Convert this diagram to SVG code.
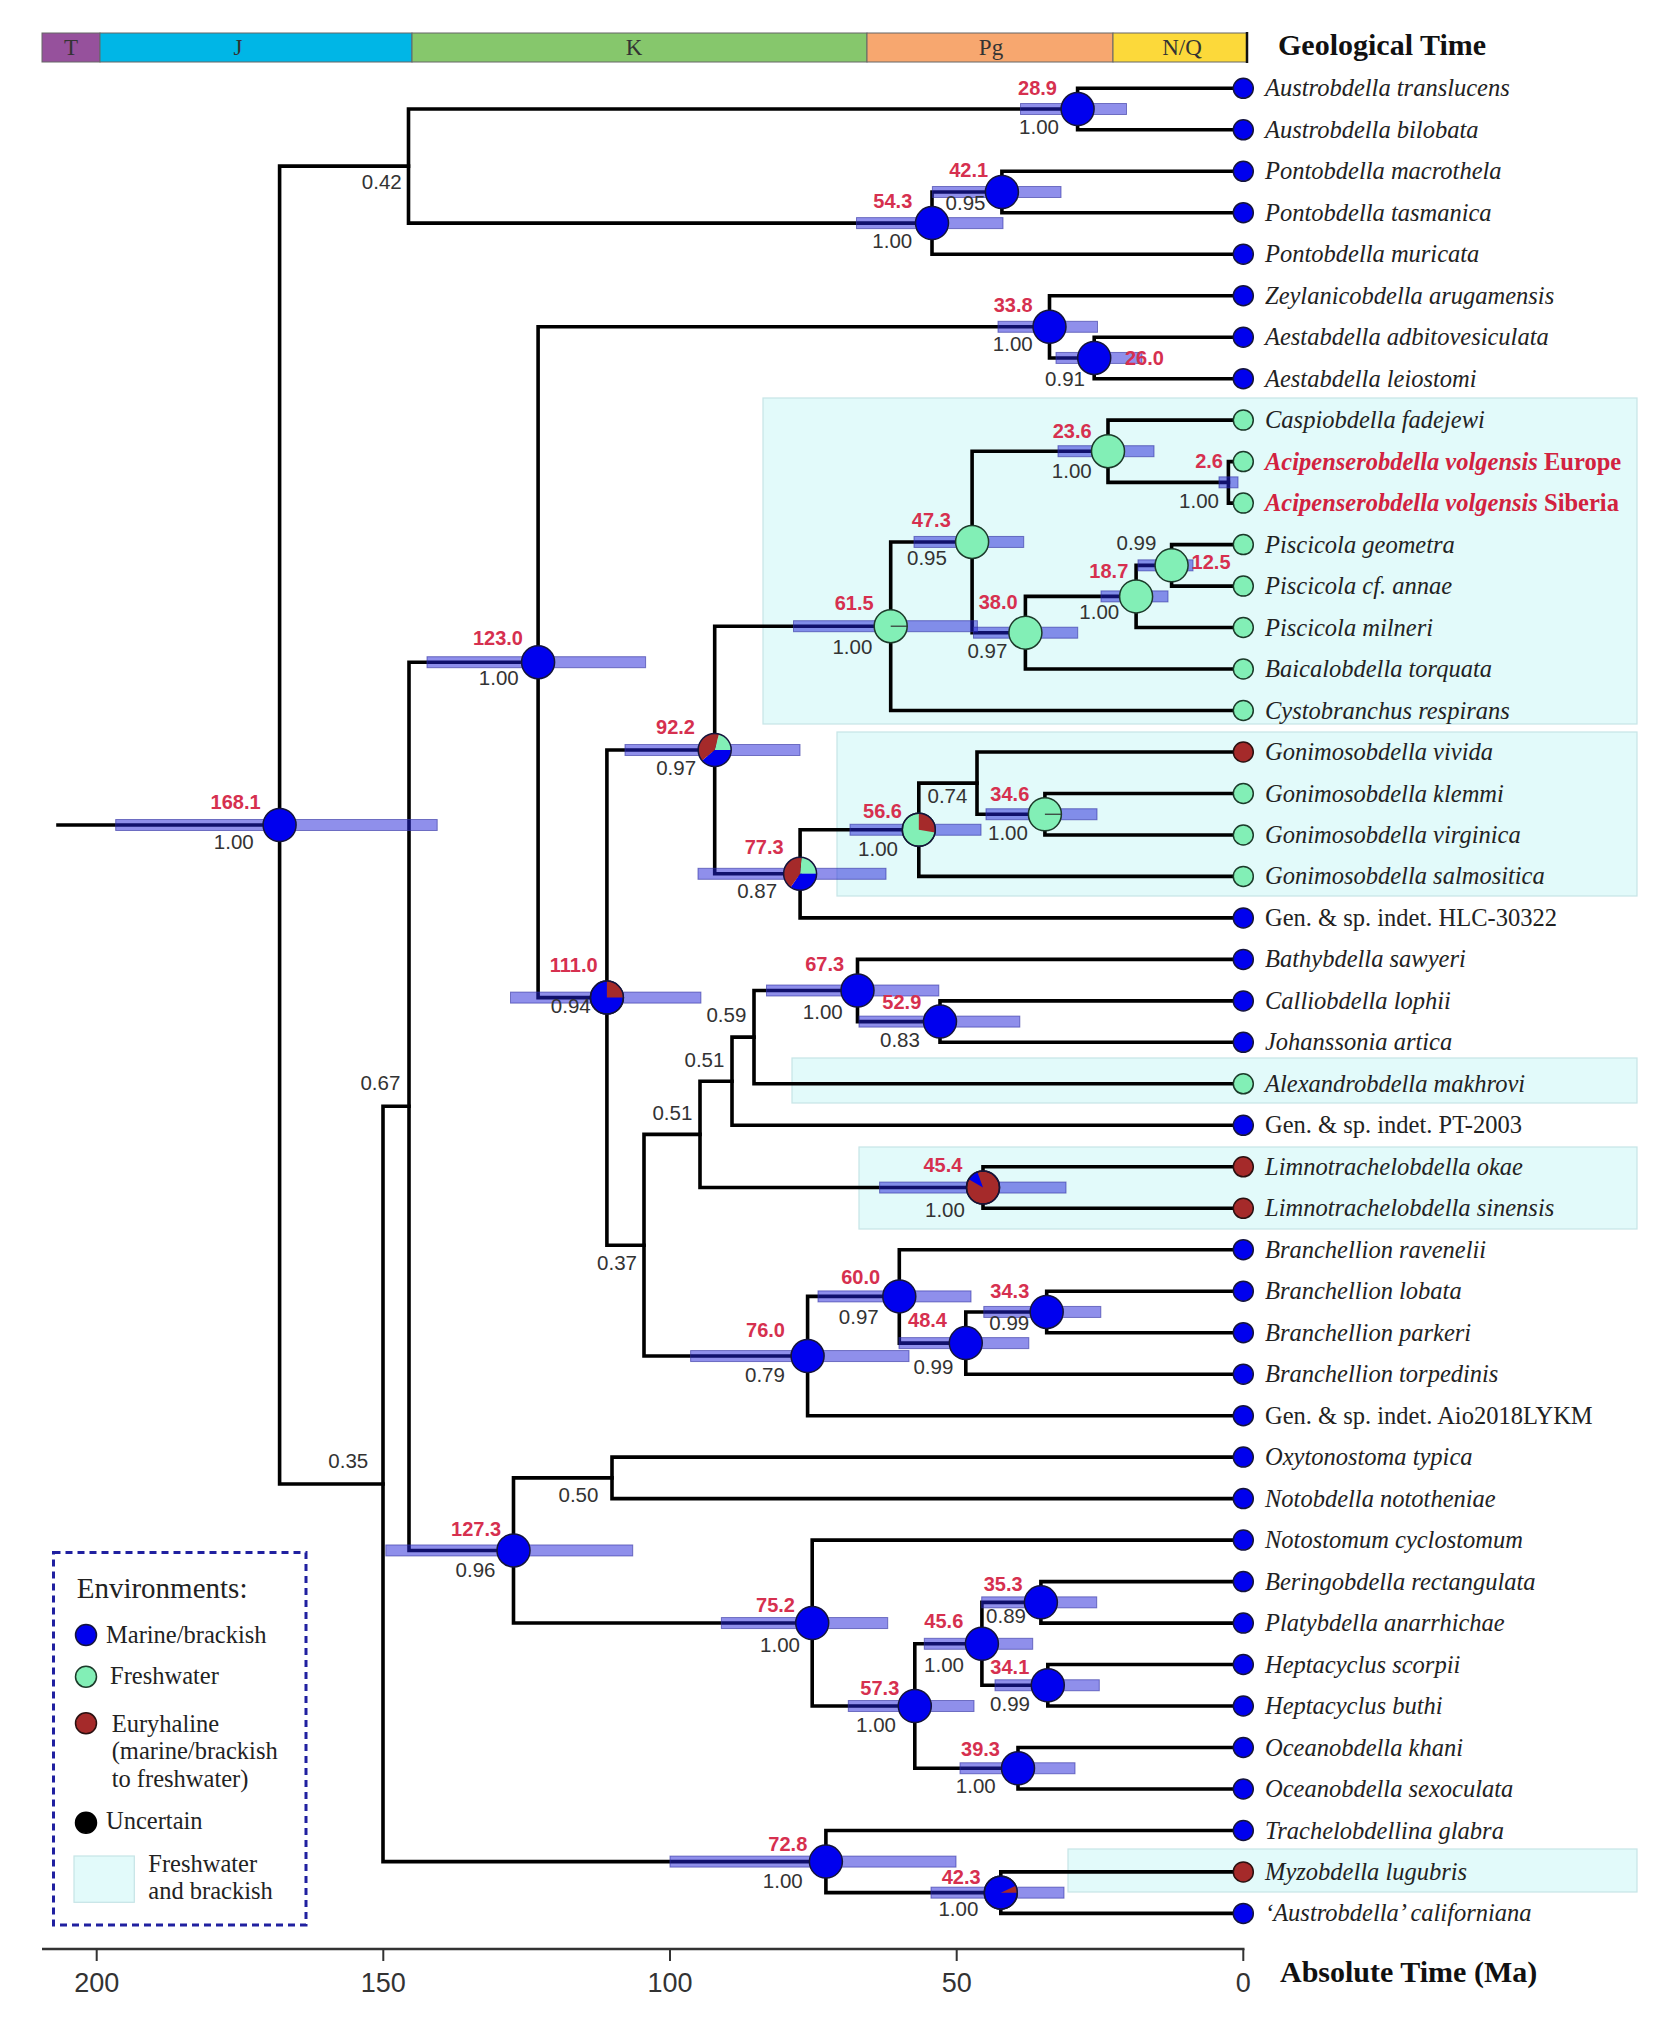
<svg xmlns="http://www.w3.org/2000/svg" width="1662" height="2018" viewBox="0 0 1662 2018">
<style>
.br{fill:none;stroke:#000;stroke-width:3.6;stroke-linecap:square;stroke-linejoin:miter}
.bar{fill:#2020d8;fill-opacity:0.5;stroke:#3030a0;stroke-width:1;stroke-opacity:0.6}
.box{fill:#e2fafa;stroke:#c6e4e6;stroke-width:1.2}
.mb{fill:#0000ee;stroke:#14143c;stroke-width:1.5}
.fw{fill:#82efb6;stroke:#1c3a2a;stroke-width:1.5}
.eu{fill:#a52a2a;stroke:#2a1010;stroke-width:1.5}
.un{fill:#000;stroke:#000;stroke-width:1.5}
.ring{fill:none;stroke:#14143c;stroke-width:1.5}
.pr{fill:#a52a2a}.pb{fill:#0000ee}.pg{fill:#82efb6}
.age{font-family:'Liberation Sans',Arial,sans-serif;font-weight:bold;font-size:20px;fill:#d6304f;text-anchor:end}
.sup{font-family:'Liberation Sans',Arial,sans-serif;font-size:20.5px;fill:#333;text-anchor:end}
.tip{font-family:'Liberation Serif',serif;font-style:italic;font-size:24.5px;fill:#222}
.up{font-style:normal}
.hl{fill:#d2223f;font-weight:bold}
.geo{font-family:'Liberation Serif',serif;font-size:23px;fill:#333;text-anchor:middle}
.ttl{font-family:'Liberation Serif',serif;font-weight:bold;font-size:30px;fill:#111}
.ax{font-family:'Liberation Sans',sans-serif;font-size:27px;fill:#333;text-anchor:middle}
.leg{font-family:'Liberation Serif',serif;font-size:24.5px;fill:#222}
</style>

<!-- geological time bar -->
<g id="geobar">
<rect x="42" y="33" width="58" height="29" fill="#96519c" stroke="#666" stroke-width="1"/>
<rect x="100" y="33" width="312" height="29" fill="#00b6e6" stroke="#666" stroke-width="1"/>
<rect x="412" y="33" width="455" height="29" fill="#86c76c" stroke="#666" stroke-width="1"/>
<rect x="867" y="33" width="246" height="29" fill="#f7a76f" stroke="#666" stroke-width="1"/>
<rect x="1113" y="33" width="134" height="29" fill="#fcd93a" stroke="#666" stroke-width="1"/>
<line x1="1247" y1="32" x2="1247" y2="63" stroke="#111" stroke-width="2.5"/>
<text class="geo" x="71" y="55">T</text>
<text class="geo" x="238" y="55">J</text>
<text class="geo" x="634" y="55">K</text>
<text class="geo" x="991" y="55">Pg</text>
<text class="geo" x="1182" y="55">N/Q</text>
<text class="ttl" x="1278" y="55">Geological Time</text>
</g>

<!-- freshwater / brackish highlight boxes -->
<g id="highlights">
<rect class="box" x="763" y="398" width="874" height="326"/>
<rect class="box" x="837" y="732" width="800" height="164"/>
<rect class="box" x="792" y="1058" width="845" height="45"/>
<rect class="box" x="859" y="1147" width="778" height="82"/>
<rect class="box" x="1068" y="1849" width="569" height="43"/>
</g>

<!-- connectors -->
<g id="connectors">
<path class="br" d="M58,825 H279.6"/>
<path class="br" d="M408.5,166.1 H279.6 V1483.95 H383"/>
<path class="br" d="M1077.6,109.05 H408.5 V223.1 H932"/>
<path class="br" d="M1243.3,88.3 H1077.6 V129.8 H1243.3"/>
<path class="br" d="M1001.9,192 H932 V254.2 H1243.3"/>
<path class="br" d="M1243.3,171.3 H1001.9 V212.7 H1243.3"/>
<path class="br" d="M409,1106.3 H383 V1861.6 H825.9"/>
<path class="br" d="M538.1,662.2 H409 V1550.45 H513.5"/>
<path class="br" d="M1049.5,326.8 H538.1 V997.6 H606.9"/>
<path class="br" d="M1243.3,295.7 H1049.5 V357.95 H1094.2"/>
<path class="br" d="M1243.3,337.2 H1094.2 V378.7 H1243.3"/>
<path class="br" d="M714.7,750 H606.9 V1245.2 H644"/>
<path class="br" d="M890.7,626.2 H714.7 V873.8 H800.1"/>
<path class="br" d="M972.1,541.95 H890.7 V710.5 H1243.3"/>
<path class="br" d="M1108,451.2 H972.1 V632.7 H1025.4"/>
<path class="br" d="M1243.3,420.1 H1108 V482.35 H1228.4"/>
<path class="br" d="M1243.3,461.6 H1228.4 V503.1 H1243.3"/>
<path class="br" d="M1136.1,596.4 H1025.4 V669 H1243.3"/>
<path class="br" d="M1171.6,565.35 H1136.1 V627.5 H1243.3"/>
<path class="br" d="M1243.3,544.6 H1171.6 V586.1 H1243.3"/>
<path class="br" d="M918.8,829.75 H800.1 V917.9 H1243.3"/>
<path class="br" d="M977,783.1 H918.8 V876.4 H1243.3"/>
<path class="br" d="M1243.3,752 H977 V814.25 H1044.9"/>
<path class="br" d="M1243.3,793.5 H1044.9 V835 H1243.3"/>
<path class="br" d="M700,1134.4 H644 V1356.05 H807.6"/>
<path class="br" d="M732,1081.2 H700 V1187.55 H983"/>
<path class="br" d="M754,1037.15 H732 V1125.3 H1243.3"/>
<path class="br" d="M857.5,990.5 H754 V1083.8 H1243.3"/>
<path class="br" d="M1243.3,959.4 H857.5 V1021.6 H940"/>
<path class="br" d="M1243.3,1000.9 H940 V1042.3 H1243.3"/>
<path class="br" d="M1243.3,1166.8 H983 V1208.3 H1243.3"/>
<path class="br" d="M899.3,1296.4 H807.6 V1415.7 H1243.3"/>
<path class="br" d="M1243.3,1249.7 H899.3 V1343.1 H965.8"/>
<path class="br" d="M1046.7,1311.95 H965.8 V1374.2 H1243.3"/>
<path class="br" d="M1243.3,1291.2 H1046.7 V1332.7 H1243.3"/>
<path class="br" d="M612,1477.85 H513.5 V1623.05 H812.2"/>
<path class="br" d="M1243.3,1457.1 H612 V1498.6 H1243.3"/>
<path class="br" d="M1243.3,1540.1 H812.2 V1706 H914.8"/>
<path class="br" d="M981.9,1643.8 H914.8 V1768.25 H1018"/>
<path class="br" d="M1040.9,1602.35 H981.9 V1685.25 H1047.8"/>
<path class="br" d="M1243.3,1581.6 H1040.9 V1623.1 H1243.3"/>
<path class="br" d="M1243.3,1664.5 H1047.8 V1706 H1243.3"/>
<path class="br" d="M1243.3,1747.5 H1018 V1789 H1243.3"/>
<path class="br" d="M1243.3,1830.5 H825.9 V1892.65 H1000.8"/>
<path class="br" d="M1243.3,1871.9 H1000.8 V1913.4 H1243.3"/>
</g>

<!-- age HPD bars -->
<g id="hpd-bars">
<rect class="bar" x="115.7" y="819.5" width="321.5" height="11"/>
<rect class="bar" x="1020.5" y="103.5" width="106" height="11"/>
<rect class="bar" x="932.4" y="186.5" width="128.6" height="11"/>
<rect class="bar" x="856.5" y="217.6" width="146.5" height="11"/>
<rect class="bar" x="998" y="321.3" width="99.5" height="11"/>
<rect class="bar" x="1056" y="352.45" width="86" height="11"/>
<rect class="bar" x="427" y="656.7" width="218.6" height="11"/>
<rect class="bar" x="1058" y="445.7" width="96" height="11"/>
<rect class="bar" x="1219" y="476.85" width="19" height="11"/>
<rect class="bar" x="914" y="536.45" width="109.7" height="11"/>
<rect class="bar" x="1138" y="559.85" width="55" height="11"/>
<rect class="bar" x="1101" y="590.9" width="67" height="11"/>
<rect class="bar" x="793.5" y="620.7" width="183.9" height="11"/>
<rect class="bar" x="973.5" y="627.2" width="104.2" height="11"/>
<rect class="bar" x="625" y="744.5" width="175" height="11"/>
<rect class="bar" x="698" y="868.3" width="188" height="11"/>
<rect class="bar" x="850" y="824.25" width="131" height="11"/>
<rect class="bar" x="986" y="808.75" width="111" height="11"/>
<rect class="bar" x="510.5" y="992.1" width="190.4" height="11"/>
<rect class="bar" x="766.5" y="985" width="172.3" height="11"/>
<rect class="bar" x="859" y="1016.1" width="160.8" height="11"/>
<rect class="bar" x="879.6" y="1182.05" width="186.4" height="11"/>
<rect class="bar" x="818" y="1290.9" width="153" height="11"/>
<rect class="bar" x="983.8" y="1306.45" width="117" height="11"/>
<rect class="bar" x="899" y="1337.6" width="129.8" height="11"/>
<rect class="bar" x="690.6" y="1350.55" width="218.4" height="11"/>
<rect class="bar" x="385.8" y="1544.95" width="246.9" height="11"/>
<rect class="bar" x="721.4" y="1617.55" width="166.3" height="11"/>
<rect class="bar" x="981.7" y="1596.85" width="115" height="11"/>
<rect class="bar" x="924.3" y="1638.3" width="108.4" height="11"/>
<rect class="bar" x="995" y="1679.75" width="104.3" height="11"/>
<rect class="bar" x="848.3" y="1700.5" width="125.7" height="11"/>
<rect class="bar" x="960" y="1762.75" width="115" height="11"/>
<rect class="bar" x="670" y="1856.1" width="286" height="11"/>
<rect class="bar" x="931" y="1887.15" width="133" height="11"/>
</g>

<!-- internal nodes -->
<g id="n168"><circle class="mb" cx="279.6" cy="825" r="16.5"/><text class="age" x="260.6" y="808.5">168.1</text><text class="sup" x="253.7" y="849">1.00</text></g>
<g id="n042"><text class="sup" x="401.7" y="189.3">0.42</text></g>
<g id="n289"><circle class="mb" cx="1077.6" cy="109.05" r="16.5"/><text class="age" x="1057" y="95">28.9</text><text class="sup" x="1059" y="134">1.00</text></g>
<g id="n421"><circle class="mb" cx="1001.9" cy="192" r="16.5"/><text class="age" x="988.2" y="177">42.1</text><text class="sup" x="985.5" y="210">0.95</text></g>
<g id="n543"><circle class="mb" cx="932" cy="223.1" r="16.5"/><text class="age" x="912.3" y="207.9">54.3</text><text class="sup" x="912.2" y="247.5">1.00</text></g>
<g id="n035"><text class="sup" x="368.2" y="1468.2">0.35</text></g>
<g id="n067"><text class="sup" x="400.3" y="1090.1">0.67</text></g>
<g id="n1230"><circle class="mb" cx="538.1" cy="662.2" r="16.5"/><text class="age" x="523" y="645.1">123.0</text><text class="sup" x="518.7" y="684.5">1.00</text></g>
<g id="n338"><circle class="mb" cx="1049.5" cy="326.8" r="16.5"/><text class="age" x="1032.7" y="311.7">33.8</text><text class="sup" x="1032.7" y="351">1.00</text></g>
<g id="n260"><circle class="mb" cx="1094.2" cy="357.95" r="16.5"/><text class="age" x="1125" y="365" style="text-anchor:start">26.0</text><text class="sup" x="1085" y="386">0.91</text></g>
<g id="n1110"><circle class="mb" cx="606.9" cy="997.6" r="16.5"/><path class="pr" d="M606.9,997.6 L606.9,981.1 A16.5,16.5 0 0 1 623.4,997.6 Z"/><circle class="ring" cx="606.9" cy="997.6" r="16.5"/><text class="age" x="597.6" y="971.8">111.0</text><text class="sup" x="590.7" y="1013">0.94</text></g>
<g id="n922"><path class="pg" d="M714.7,750 L718.97,734.06 A16.5,16.5 0 0 1 731.2,750 Z"/><path class="pb" d="M714.7,750 L731.2,750 A16.5,16.5 0 0 1 702.06,760.61 Z"/><path class="pr" d="M714.7,750 L702.06,760.61 A16.5,16.5 0 0 1 718.97,734.06 Z"/><circle class="ring" cx="714.7" cy="750" r="16.5"/><text class="age" x="695" y="733.9">92.2</text><text class="sup" x="696.1" y="774.5">0.97</text></g>
<g id="n615"><circle class="fw" cx="890.7" cy="626.2" r="16.5"/><line x1="890.7" y1="626.2" x2="907.2" y2="626.2" stroke="#333" stroke-width="1.2"/><text class="age" x="873.7" y="610.4">61.5</text><text class="sup" x="872.3" y="653.5">1.00</text></g>
<g id="n473"><circle class="fw" cx="972.1" cy="541.95" r="16.5"/><text class="age" x="950.8" y="526.8">47.3</text><text class="sup" x="946.9" y="565">0.95</text></g>
<g id="n236"><circle class="fw" cx="1108" cy="451.2" r="16.5"/><text class="age" x="1091.7" y="438.3">23.6</text><text class="sup" x="1091.7" y="477.5">1.00</text></g>
<g id="n26"><text class="age" x="1223" y="468.3">2.6</text><text class="sup" x="1219" y="507.5">1.00</text></g>
<g id="n380"><circle class="fw" cx="1025.4" cy="632.7" r="16.5"/><text class="age" x="1017.7" y="609.1">38.0</text><text class="sup" x="1007.3" y="657.5">0.97</text></g>
<g id="n187"><circle class="fw" cx="1136.1" cy="596.4" r="16.5"/><text class="age" x="1128.3" y="578.3">18.7</text><text class="sup" x="1119.2" y="619">1.00</text></g>
<g id="n125"><circle class="fw" cx="1171.6" cy="565.35" r="16.5"/><text class="age" x="1191.6" y="569.3" style="text-anchor:start">12.5</text><text class="sup" x="1156.4" y="550">0.99</text></g>
<g id="n773"><path class="pg" d="M800.1,873.8 L801.54,857.36 A16.5,16.5 0 0 1 816.6,873.8 Z"/><path class="pb" d="M800.1,873.8 L816.6,873.8 A16.5,16.5 0 0 1 790.64,887.32 Z"/><path class="pr" d="M800.1,873.8 L790.64,887.32 A16.5,16.5 0 0 1 801.54,857.36 Z"/><circle class="ring" cx="800.1" cy="873.8" r="16.5"/><text class="age" x="783.7" y="853.5">77.3</text><text class="sup" x="777.1" y="898">0.87</text></g>
<g id="n566"><circle class="fw" cx="918.8" cy="829.75" r="16.5"/><path class="pr" d="M918.8,829.75 L918.8,813.25 A16.5,16.5 0 0 1 935.05,832.61 Z"/><circle class="ring" cx="918.8" cy="829.75" r="16.5"/><text class="age" x="902" y="817.5">56.6</text><text class="sup" x="898" y="855.5">1.00</text></g>
<g id="n074"><text class="sup" x="967.4" y="802.5">0.74</text></g>
<g id="n346"><circle class="fw" cx="1044.9" cy="814.25" r="16.5"/><line x1="1044.9" y1="814.25" x2="1061.4" y2="814.25" stroke="#333" stroke-width="1.2"/><text class="age" x="1029.3" y="800.7">34.6</text><text class="sup" x="1027.9" y="840">1.00</text></g>
<g id="n037"><text class="sup" x="637" y="1269.5">0.37</text></g>
<g id="n051a"><text class="sup" x="692.3" y="1119.7">0.51</text></g>
<g id="n051b"><text class="sup" x="724.4" y="1067">0.51</text></g>
<g id="n059"><text class="sup" x="746.3" y="1021.9">0.59</text></g>
<g id="n673"><circle class="mb" cx="857.5" cy="990.5" r="16.5"/><text class="age" x="844.1" y="970.5">67.3</text><text class="sup" x="842.7" y="1019">1.00</text></g>
<g id="n529"><circle class="mb" cx="940" cy="1021.6" r="16.5"/><text class="age" x="921.3" y="1009.1">52.9</text><text class="sup" x="919.9" y="1047">0.83</text></g>
<g id="n454"><circle class="eu" cx="983" cy="1187.55" r="16.5"/><path class="pb" d="M983,1187.55 L968.71,1179.3 A16.5,16.5 0 0 1 977.36,1172.05 Z"/><circle class="ring" cx="983" cy="1187.55" r="16.5"/><text class="age" x="962.4" y="1172.4">45.4</text><text class="sup" x="964.9" y="1217">1.00</text></g>
<g id="n760"><circle class="mb" cx="807.6" cy="1356.05" r="16.5"/><text class="age" x="785" y="1337">76.0</text><text class="sup" x="784.9" y="1381.5">0.79</text></g>
<g id="n600"><circle class="mb" cx="899.3" cy="1296.4" r="16.5"/><text class="age" x="880.1" y="1284.3">60.0</text><text class="sup" x="878.7" y="1323.5">0.97</text></g>
<g id="n484"><circle class="mb" cx="965.8" cy="1343.1" r="16.5"/><text class="age" x="947" y="1326.7">48.4</text><text class="sup" x="953.3" y="1373.5">0.99</text></g>
<g id="n343"><circle class="mb" cx="1046.7" cy="1311.95" r="16.5"/><text class="age" x="1029.3" y="1298.4">34.3</text><text class="sup" x="1029.2" y="1330">0.99</text></g>
<g id="n1273"><circle class="mb" cx="513.5" cy="1550.45" r="16.5"/><text class="age" x="501.1" y="1536.3">127.3</text><text class="sup" x="495.5" y="1577">0.96</text></g>
<g id="n050"><text class="sup" x="598.4" y="1502">0.50</text></g>
<g id="n752"><circle class="mb" cx="812.2" cy="1623.05" r="16.5"/><text class="age" x="795" y="1611.7">75.2</text><text class="sup" x="800" y="1652">1.00</text></g>
<g id="n573"><circle class="mb" cx="914.8" cy="1706" r="16.5"/><text class="age" x="899.3" y="1695">57.3</text><text class="sup" x="896" y="1732">1.00</text></g>
<g id="n456"><circle class="mb" cx="981.9" cy="1643.8" r="16.5"/><text class="age" x="963.3" y="1628">45.6</text><text class="sup" x="964" y="1672">1.00</text></g>
<g id="n353"><circle class="mb" cx="1040.9" cy="1602.35" r="16.5"/><text class="age" x="1022.7" y="1590.7">35.3</text><text class="sup" x="1026" y="1623">0.89</text></g>
<g id="n341"><circle class="mb" cx="1047.8" cy="1685.25" r="16.5"/><text class="age" x="1029.3" y="1674">34.1</text><text class="sup" x="1030" y="1710.5">0.99</text></g>
<g id="n393"><circle class="mb" cx="1018" cy="1768.25" r="16.5"/><text class="age" x="1000" y="1755.7">39.3</text><text class="sup" x="995.7" y="1792.5">1.00</text></g>
<g id="n728"><circle class="mb" cx="825.9" cy="1861.6" r="16.5"/><text class="age" x="807.3" y="1850.7">72.8</text><text class="sup" x="802.7" y="1887.5">1.00</text></g>
<g id="n423"><circle class="mb" cx="1000.8" cy="1892.65" r="16.5"/><path class="pr" d="M1000.8,1892.65 L1015.75,1885.68 A16.5,16.5 0 0 1 1017.3,1892.65 Z"/><circle class="ring" cx="1000.8" cy="1892.65" r="16.5"/><text class="age" x="980.7" y="1884">42.3</text><text class="sup" x="978.3" y="1915.5">1.00</text></g>

<!-- tips -->
<g id="t00"><circle class="mb" cx="1243.3" cy="88.3" r="10"/><text class="tip" x="1265" y="96.3">Austrobdella translucens</text></g>
<g id="t01"><circle class="mb" cx="1243.3" cy="129.8" r="10"/><text class="tip" x="1265" y="137.8">Austrobdella bilobata</text></g>
<g id="t02"><circle class="mb" cx="1243.3" cy="171.3" r="10"/><text class="tip" x="1265" y="179.3">Pontobdella macrothela</text></g>
<g id="t03"><circle class="mb" cx="1243.3" cy="212.7" r="10"/><text class="tip" x="1265" y="220.7">Pontobdella tasmanica</text></g>
<g id="t04"><circle class="mb" cx="1243.3" cy="254.2" r="10"/><text class="tip" x="1265" y="262.2">Pontobdella muricata</text></g>
<g id="t05"><circle class="mb" cx="1243.3" cy="295.7" r="10"/><text class="tip" x="1265" y="303.7">Zeylanicobdella arugamensis</text></g>
<g id="t06"><circle class="mb" cx="1243.3" cy="337.2" r="10"/><text class="tip" x="1265" y="345.2">Aestabdella adbitovesiculata</text></g>
<g id="t07"><circle class="mb" cx="1243.3" cy="378.7" r="10"/><text class="tip" x="1265" y="386.7">Aestabdella leiostomi</text></g>
<g id="t08"><circle class="fw" cx="1243.3" cy="420.1" r="10"/><text class="tip" x="1265" y="428.1">Caspiobdella fadejewi</text></g>
<g id="t09"><circle class="fw" cx="1243.3" cy="461.6" r="10"/><text class="tip hl" x="1265" y="469.6">Acipenserobdella volgensis <tspan class="up">Europe</tspan></text></g>
<g id="t10"><circle class="fw" cx="1243.3" cy="503.1" r="10"/><text class="tip hl" x="1265" y="511.1">Acipenserobdella volgensis <tspan class="up">Siberia</tspan></text></g>
<g id="t11"><circle class="fw" cx="1243.3" cy="544.6" r="10"/><text class="tip" x="1265" y="552.6">Piscicola geometra</text></g>
<g id="t12"><circle class="fw" cx="1243.3" cy="586.1" r="10"/><text class="tip" x="1265" y="594.1">Piscicola cf. annae</text></g>
<g id="t13"><circle class="fw" cx="1243.3" cy="627.5" r="10"/><text class="tip" x="1265" y="635.5">Piscicola milneri</text></g>
<g id="t14"><circle class="fw" cx="1243.3" cy="669" r="10"/><text class="tip" x="1265" y="677">Baicalobdella torquata</text></g>
<g id="t15"><circle class="fw" cx="1243.3" cy="710.5" r="10"/><text class="tip" x="1265" y="718.5">Cystobranchus respirans</text></g>
<g id="t16"><circle class="eu" cx="1243.3" cy="752" r="10"/><text class="tip" x="1265" y="760">Gonimosobdella vivida</text></g>
<g id="t17"><circle class="fw" cx="1243.3" cy="793.5" r="10"/><text class="tip" x="1265" y="801.5">Gonimosobdella klemmi</text></g>
<g id="t18"><circle class="fw" cx="1243.3" cy="835" r="10"/><text class="tip" x="1265" y="843">Gonimosobdella virginica</text></g>
<g id="t19"><circle class="fw" cx="1243.3" cy="876.4" r="10"/><text class="tip" x="1265" y="884.4">Gonimosobdella salmositica</text></g>
<g id="t20"><circle class="mb" cx="1243.3" cy="917.9" r="10"/><text class="tip up" x="1265" y="925.9">Gen. &amp; sp. indet. HLC-30322</text></g>
<g id="t21"><circle class="mb" cx="1243.3" cy="959.4" r="10"/><text class="tip" x="1265" y="967.4">Bathybdella sawyeri</text></g>
<g id="t22"><circle class="mb" cx="1243.3" cy="1000.9" r="10"/><text class="tip" x="1265" y="1008.9">Calliobdella lophii</text></g>
<g id="t23"><circle class="mb" cx="1243.3" cy="1042.3" r="10"/><text class="tip" x="1265" y="1050.3">Johanssonia artica</text></g>
<g id="t24"><circle class="fw" cx="1243.3" cy="1083.8" r="10"/><text class="tip" x="1265" y="1091.8">Alexandrobdella makhrovi</text></g>
<g id="t25"><circle class="mb" cx="1243.3" cy="1125.3" r="10"/><text class="tip up" x="1265" y="1133.3">Gen. &amp; sp. indet. PT-2003</text></g>
<g id="t26"><circle class="eu" cx="1243.3" cy="1166.8" r="10"/><text class="tip" x="1265" y="1174.8">Limnotrachelobdella okae</text></g>
<g id="t27"><circle class="eu" cx="1243.3" cy="1208.3" r="10"/><text class="tip" x="1265" y="1216.3">Limnotrachelobdella sinensis</text></g>
<g id="t28"><circle class="mb" cx="1243.3" cy="1249.7" r="10"/><text class="tip" x="1265" y="1257.7">Branchellion ravenelii</text></g>
<g id="t29"><circle class="mb" cx="1243.3" cy="1291.2" r="10"/><text class="tip" x="1265" y="1299.2">Branchellion lobata</text></g>
<g id="t30"><circle class="mb" cx="1243.3" cy="1332.7" r="10"/><text class="tip" x="1265" y="1340.7">Branchellion parkeri</text></g>
<g id="t31"><circle class="mb" cx="1243.3" cy="1374.2" r="10"/><text class="tip" x="1265" y="1382.2">Branchellion torpedinis</text></g>
<g id="t32"><circle class="mb" cx="1243.3" cy="1415.7" r="10"/><text class="tip up" x="1265" y="1423.7">Gen. &amp; sp. indet. Aio2018LYKM</text></g>
<g id="t33"><circle class="mb" cx="1243.3" cy="1457.1" r="10"/><text class="tip" x="1265" y="1465.1">Oxytonostoma typica</text></g>
<g id="t34"><circle class="mb" cx="1243.3" cy="1498.6" r="10"/><text class="tip" x="1265" y="1506.6">Notobdella nototheniae</text></g>
<g id="t35"><circle class="mb" cx="1243.3" cy="1540.1" r="10"/><text class="tip" x="1265" y="1548.1">Notostomum cyclostomum</text></g>
<g id="t36"><circle class="mb" cx="1243.3" cy="1581.6" r="10"/><text class="tip" x="1265" y="1589.6">Beringobdella rectangulata</text></g>
<g id="t37"><circle class="mb" cx="1243.3" cy="1623.1" r="10"/><text class="tip" x="1265" y="1631.1">Platybdella anarrhichae</text></g>
<g id="t38"><circle class="mb" cx="1243.3" cy="1664.5" r="10"/><text class="tip" x="1265" y="1672.5">Heptacyclus scorpii</text></g>
<g id="t39"><circle class="mb" cx="1243.3" cy="1706" r="10"/><text class="tip" x="1265" y="1714">Heptacyclus buthi</text></g>
<g id="t40"><circle class="mb" cx="1243.3" cy="1747.5" r="10"/><text class="tip" x="1265" y="1755.5">Oceanobdella khani</text></g>
<g id="t41"><circle class="mb" cx="1243.3" cy="1789" r="10"/><text class="tip" x="1265" y="1797">Oceanobdella sexoculata</text></g>
<g id="t42"><circle class="mb" cx="1243.3" cy="1830.5" r="10"/><text class="tip" x="1265" y="1838.5">Trachelobdellina glabra</text></g>
<g id="t43"><circle class="eu" cx="1243.3" cy="1871.9" r="10"/><text class="tip" x="1265" y="1879.9">Myzobdella lugubris</text></g>
<g id="t44"><circle class="mb" cx="1243.3" cy="1913.4" r="10"/><text class="tip" x="1265" y="1921.4">‘Austrobdella’ californiana</text></g>

<!-- time axis -->
<g id="axis">
<line x1="42" y1="1949" x2="1244.5" y2="1949" stroke="#333" stroke-width="2.5"/>
<path d="M96.7,1949 V1961 M383.3,1949 V1961 M670,1949 V1961 M956.7,1949 V1961 M1243.3,1949 V1961" stroke="#333" stroke-width="2" fill="none"/>
<text class="ax" x="96.7" y="1992">200</text>
<text class="ax" x="383.3" y="1992">150</text>
<text class="ax" x="670" y="1992">100</text>
<text class="ax" x="956.7" y="1992">50</text>
<text class="ax" x="1243.3" y="1992">0</text>
<text class="ttl" x="1280" y="1982">Absolute Time (Ma)</text>
</g>

<!-- legend -->
<g id="legend">
<rect x="53.5" y="1552.5" width="252.5" height="372.5" fill="none" stroke="#2020a0" stroke-width="3" stroke-dasharray="7 5"/>
<text class="leg" x="76.7" y="1598" style="font-size:29px">Environments:</text>
<circle class="mb" cx="86" cy="1635" r="10.5"/>
<text class="leg" x="106" y="1643">Marine/brackish</text>
<circle class="fw" cx="86" cy="1676.7" r="10.5"/>
<text class="leg" x="110" y="1684">Freshwater</text>
<circle class="eu" cx="86" cy="1723.3" r="10.5"/>
<text class="leg" x="111.7" y="1731.7">Euryhaline</text>
<text class="leg" x="111.7" y="1759.3">(marine/brackish</text>
<text class="leg" x="111.7" y="1786.7">to freshwater)</text>
<circle class="un" cx="86" cy="1822.7" r="10.5"/>
<text class="leg" x="106" y="1829.3">Uncertain</text>
<rect class="box" x="74" y="1856" width="60.3" height="46.3"/>
<text class="leg" x="148.3" y="1871.7">Freshwater</text>
<text class="leg" x="148.3" y="1899.3">and brackish</text>
</g>
</svg>
